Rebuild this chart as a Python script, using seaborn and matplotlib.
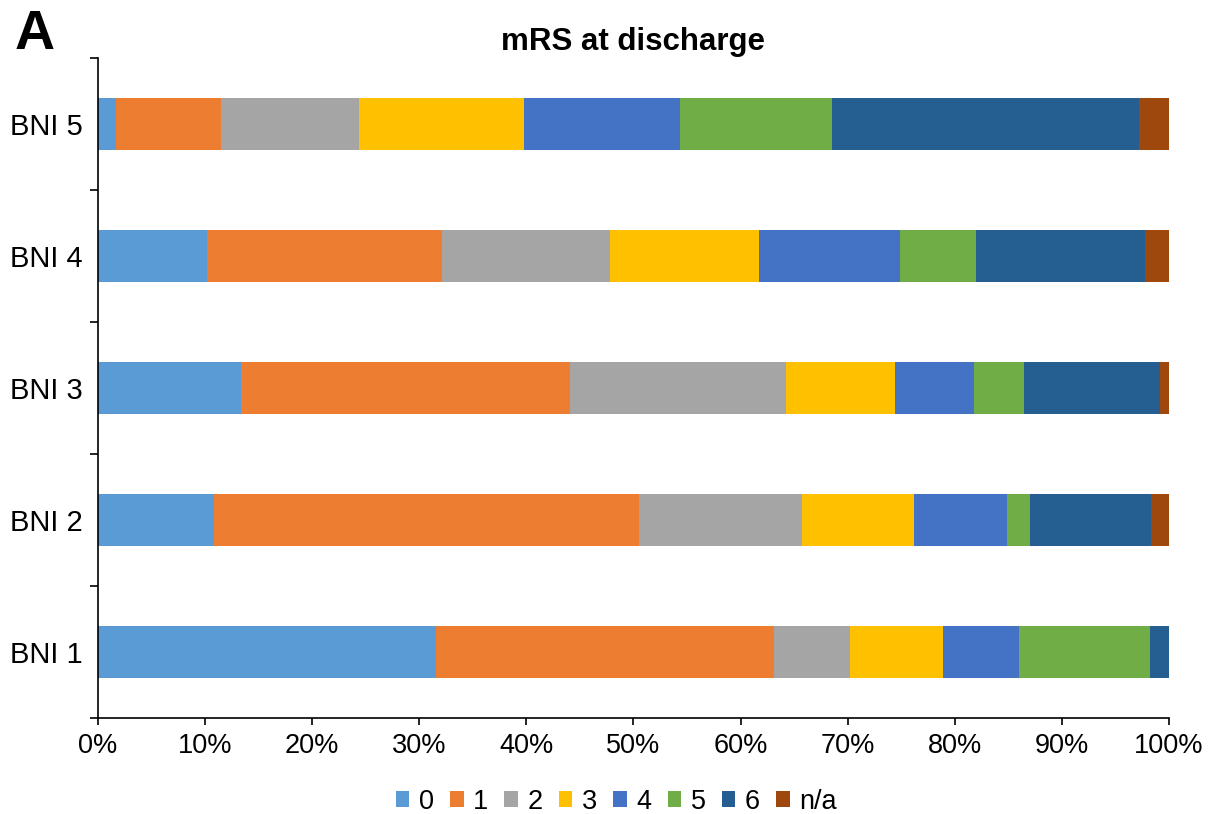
import matplotlib
matplotlib.use("Agg")
import matplotlib.pyplot as plt
from matplotlib.patches import Patch
from matplotlib.ticker import FixedLocator, PercentFormatter
import seaborn as sns
import pandas as pd
import numpy as np

# categories, top to bottom
groups = ["BNI 5", "BNI 4", "BNI 3", "BNI 2", "BNI 1"]
mrs_levels = ["0", "1", "2", "3", "4", "5", "6", "n/a"]

# percentage of patients per mRS score
mrs_0 = [1.65, 10.2, 13.35, 10.8, 31.6]
mrs_1 = [9.8, 21.9, 30.75, 39.7, 31.55]
mrs_2 = [12.95, 15.7, 20.1, 15.25, 7.05]
mrs_3 = [15.4, 13.9, 10.2, 10.45, 8.7]
mrs_4 = [14.5, 13.2, 7.4, 8.65, 7.05]
mrs_5 = [14.25, 7.05, 4.7, 2.15, 12.25]
mrs_6 = [28.65, 15.85, 12.7, 11.3, 1.8]
mrs_na = [2.8, 2.2, 0.8, 1.7, 0.0]

colors = ["#5B9BD5", "#ED7D31", "#A5A5A5", "#FFC000",
          "#4472C4", "#70AD47", "#255E91", "#9E480E"]

df = pd.DataFrame({"group": groups, "0": mrs_0, "1": mrs_1, "2": mrs_2, "3": mrs_3,
                   "4": mrs_4, "5": mrs_5, "6": mrs_6, "n/a": mrs_na})
cum = df[mrs_levels].cumsum(axis=1)
cum["group"] = df["group"]

sns.set_style("white")
plt.rcParams["font.family"] = ["Liberation Sans", "DejaVu Sans"]
plt.rcParams["text.color"] = "black"
plt.rcParams["xtick.color"] = "black"
plt.rcParams["ytick.color"] = "black"

fig = plt.figure(figsize=(12.08, 8.14), dpi=100)
ax = fig.add_axes([0.0811, 0.1179, 0.8866, 0.8108])

# stacked bars: draw cumulative totals from the last level back to the first
for lvl, col in reversed(list(zip(mrs_levels, colors))):
    sns.barplot(data=cum, x=lvl, y="group", order=groups, color=col,
                orient="h", width=0.4, saturation=1, ax=ax, edgecolor="none")

ax.set_xlim(0, 100)
ax.set_ylim(4.5, -0.5)
ax.xaxis.set_major_locator(FixedLocator(np.arange(0, 101, 10)))
ax.xaxis.set_major_formatter(PercentFormatter(decimals=0))
ax.set_xlabel("")
ax.set_ylabel("")

ax.yaxis.set_minor_locator(FixedLocator(np.arange(-0.5, 5, 1)))
ax.tick_params(axis="y", which="major", length=0, labelsize=21, pad=11)
ax.tick_params(axis="y", which="minor", length=6, width=1.2, color="black", direction="out", left=True)
ax.tick_params(axis="x", which="major", length=5, width=1.2, color="black", direction="out",
               bottom=True, labelsize=19.5, pad=6)

sns.despine(ax=ax, top=True, right=True)
for s in ["left", "bottom"]:
    ax.spines[s].set_color("black")
    ax.spines[s].set_linewidth(1.2)

ax.set_title("mRS at discharge", fontsize=22.5, fontweight="bold", pad=6)
fig.text(0.012, 0.925, "A", fontsize=40, fontweight="bold", ha="left", va="bottom")

handles = [Patch(facecolor=c, edgecolor="none", label=l) for l, c in zip(mrs_levels, colors)]
ax.legend(handles=handles, loc="upper center", bbox_to_anchor=(0.484, -0.07), ncol=8,
          frameon=False, fontsize=19.5, handlelength=0.5, handleheight=0.5,
          handletextpad=0.35, columnspacing=0.6)

fig.savefig("out.png", dpi=100)
